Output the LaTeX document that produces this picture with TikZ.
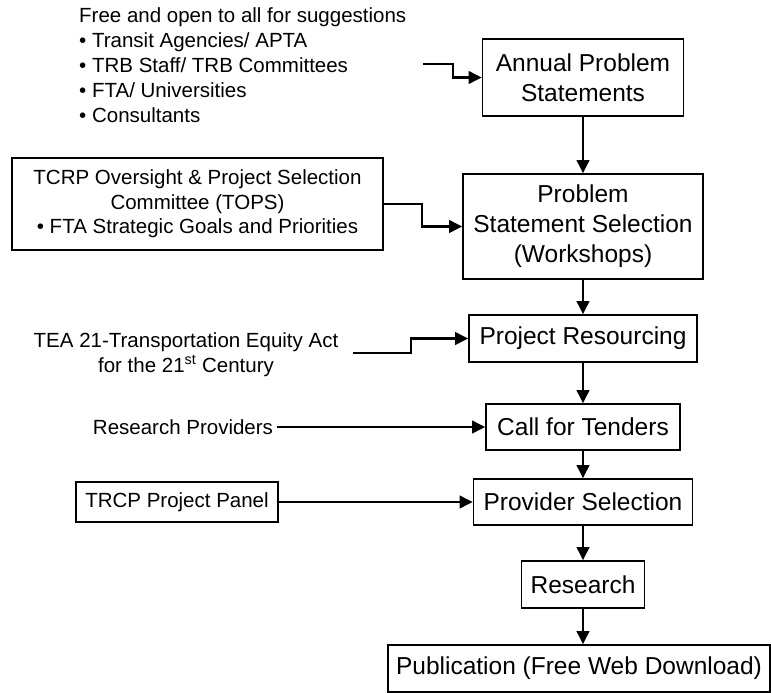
\documentclass[tikz,border=0pt]{standalone}
\usepackage{fontspec}
\setmainfont{Liberation Sans}
\usetikzlibrary{arrows.meta, positioning}
\tikzset{
  blk/.style={draw, line width=1.6pt, align=center, inner sep=0pt, font=\fontsize{24.5}{30}\selectfont},
  sidebox/.style={draw, line width=1.6pt, align=center, inner sep=0pt, font=\fontsize{20.5}{24.5}\selectfont},
  note/.style={inner sep=0pt, font=\fontsize{20.5}{25}\selectfont},
  arr/.style={-{Triangle[length=13pt, width=12.5pt]}, line width=2.2pt}
}

\begin{document}
\begin{tikzpicture}[x=1pt, y=-1pt]
    \useasboundingbox (0,0) rectangle (771,693);

    \node[blk, minimum width=201pt, minimum height=77pt] (ann) at (583,77.5) {Annual Problem\\Statements};
    \node[blk, minimum width=240pt, minimum height=105pt] (sel) at (583,226.5) {Problem\\Statement Selection\\(Workshops)};
    \node[blk, minimum width=228pt, minimum height=47pt] (res) at (583,338.5) {Project Resourcing};
    \node[blk, minimum width=194pt, minimum height=46pt] (ten) at (583,427) {Call for Tenders};
    \node[blk, minimum width=219pt, minimum height=46pt] (prov) at (583,502) {Provider Selection};
    \node[blk, minimum width=123pt, minimum height=47pt] (rsch) at (583,584.5) {Research};
    \node[blk, minimum width=382pt, minimum height=47pt] (pub) at (579,668.5) {Publication (Free Web Download)};

    \node[note, align=left, anchor=north west] (sugg) at (79,7) {Free and open to all for suggestions\\
      \textbullet\ Transit Agencies/ APTA\\
      \textbullet\ TRB Staff/ TRB Committees\\
      \textbullet\ FTA/ Universities\\
      \textbullet\ Consultants};
    \node[sidebox, minimum width=371pt, minimum height=92pt] (tops) at (197.5,204) {TCRP Oversight \& Project Selection\\Committee (TOPS)\\\textbullet\ FTA Strategic Goals and Priorities};
    \node[note, align=center] (tea) at (186,354.5) {TEA 21-Transportation Equity Act\\for the 21\textsuperscript{st} Century};
    \node[note, inner sep=4pt] (rp) at (183,427) {Research Providers};
    \node[sidebox, minimum width=202pt, minimum height=40pt] (panel) at (177,502) {TRCP Project Panel};

    \coordinate (suggout) at (423,64);
    \coordinate (teaout) at (353,353);

    % main column
    \draw[arr] (ann) -- (sel);
    \draw[arr] (sel) -- (res);
    \draw[arr] (res) -- (ten);
    \draw[arr] (ten) -- (prov);
    \draw[arr] (prov) -- (rsch);
    \draw[arr] (rsch.south) -- (rsch.south |- pub.north);

    % inputs
    \draw[arr] (suggout) -- (453,64) |- (ann.west);
    \draw[arr] (tops.east) -- (422,204) |- (sel.west);
    \draw[arr] (teaout) -- (411,353) |- (res.west);
    \draw[arr] (rp.east) -- (ten.west);
    \draw[arr] (panel.east) -- (prov.west);
  \end{tikzpicture}
\end{document}
